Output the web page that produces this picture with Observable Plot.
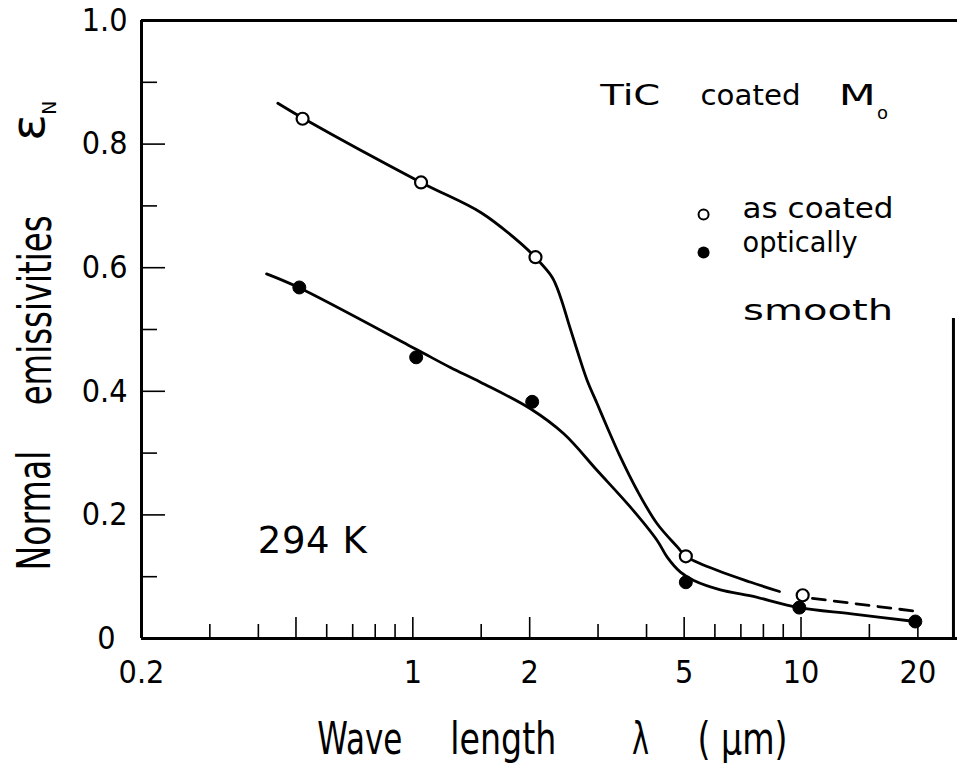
<!DOCTYPE html>
<html><head><meta charset="utf-8">
<script src="https://cdn.jsdelivr.net/npm/d3@7"></script>
<script src="https://cdn.jsdelivr.net/npm/@observablehq/plot@0.6"></script>
<style>
body{margin:0;background:#fff;}
#chart svg{display:block;}
</style></head><body><div id="chart"></div>
<script>
const font = "'DejaVu Sans',sans-serif";

// measured points (wavelength in µm, normal emissivity)
const asCoatedWl = [0.52, 1.05, 2.07, 5.05, 10.1];
const asCoatedEm = [0.841, 0.738, 0.617, 0.133, 0.070];
const smoothWl = [0.51, 1.02, 2.03, 5.05, 9.9, 19.7];
const smoothEm = [0.568, 0.455, 0.383, 0.091, 0.050, 0.0275];

// hand-drawn fitted curves
const upperWl = [0.449, 0.524, 1.05, 1.50, 1.90, 2.07, 2.285, 2.401, 2.522, 2.651, 2.813, 2.985, 3.167, 3.427, 3.784, 4.26, 4.82, 5.05, 6.1, 7.43, 8.8];
const upperEm = [0.866, 0.841, 0.738, 0.689, 0.639, 0.6165, 0.5846, 0.5523, 0.5092, 0.4660, 0.4175, 0.3798, 0.3419, 0.2934, 0.2395, 0.1856, 0.147, 0.133, 0.110, 0.091, 0.076];
const upperDashWl = [10.7, 19.8];
const upperDashEm = [0.065, 0.044];
const lowerWl = [0.42, 0.508, 1.02, 1.25, 1.494, 2.009, 2.449, 2.985, 3.636, 4.26, 4.521, 4.891, 5.294, 6.202, 7.43, 9.9, 13.5, 19.7];
const lowerEm = [0.59, 0.568, 0.468, 0.4385, 0.4147, 0.3717, 0.3312, 0.2718, 0.2125, 0.1586, 0.1316, 0.1073, 0.0939, 0.0788, 0.069, 0.050, 0.040, 0.0275];

// axis ticks
const xMajorTicks = [0.5, 1, 2, 5, 10, 20];
const xMinorTicks = [0.3, 0.4, 0.6, 0.7, 0.8, 0.9, 1.5, 3, 4, 6, 7, 8, 9, 15];
const xTickLabels = [0.2, 1, 2, 5, 10, 20];
const yMajorTicks = [0.2, 0.4, 0.6, 0.8];
const yMinorTicks = [0.1, 0.3, 0.5, 0.7, 0.9];
const yTickLabels = [0.2, 0.4, 0.6, 0.8, 1.0];
const yZeroLabel = [0];

const zip = (xs, ys) => xs.map((x, i) => ({x, y: ys[i]}));
const asCoated = zip(asCoatedWl, asCoatedEm);
const smooth = zip(smoothWl, smoothEm);
const upper = zip(upperWl, upperEm);
const upperDash = zip(upperDashWl, upperDashEm);
const lower = zip(lowerWl, lowerEm);

const T = (s, o) => Plot.text([s], {text: d => d, fontFamily: font, fill: "black", ...o});
const fmtY = d => d === 0 ? "0" : d.toFixed(1);

const chart = Plot.plot({
  width: 957, height: 763,
  marginLeft: 141, marginRight: 0, marginTop: 20, marginBottom: 125,
  x: {type: "log", domain: [0.2, 25.3], axis: null},
  y: {domain: [0, 1], axis: null},
  style: {fontFamily: font, background: "white", color: "black", overflow: "visible"},
  marks: [
    // frame
    Plot.ruleY([0], {stroke: "black", strokeWidth: 3}),
    Plot.ruleY([1], {stroke: "black", strokeWidth: 3}),
    Plot.ruleX([0.2], {stroke: "black", strokeWidth: 3}),
    Plot.ruleX([24.7], {y1: 0, y2: 0.518, stroke: "black", strokeWidth: 3}),
    // ticks (inward)
    Plot.axisX(xMajorTicks, {anchor: "bottom", tickSize: -21, strokeWidth: 1.6, fill: "none", label: null}),
    Plot.axisX(xMinorTicks, {anchor: "bottom", tickSize: -14, strokeWidth: 1.6, fill: "none", label: null}),
    Plot.axisX(xTickLabels, {anchor: "bottom", tickSize: 0, tickPadding: 22, fontSize: 32, fontFamily: font, tickFormat: d => String(d), label: null, className: "xlab"}),
    Plot.axisY(yMajorTicks, {anchor: "left", tickSize: -24, strokeWidth: 1.6, fill: "none", label: null}),
    Plot.axisY(yMinorTicks, {anchor: "left", tickSize: -16, strokeWidth: 1.6, fill: "none", label: null}),
    Plot.axisY(yTickLabels, {anchor: "left", tickSize: 0, tickPadding: 14, fontSize: 32, fontFamily: font, tickFormat: fmtY, label: null, className: "ylab"}),
    Plot.axisY(yZeroLabel, {anchor: "left", tickSize: 0, tickPadding: 26, fontSize: 32, fontFamily: font, tickFormat: fmtY, label: null, className: "ylab"}),
    // curves
    Plot.line(upper, {x: "x", y: "y", curve: "catmull-rom", stroke: "black", strokeWidth: 2.8}),
    Plot.line(upperDash, {x: "x", y: "y", stroke: "black", strokeWidth: 2.8, strokeDasharray: "13,9"}),
    Plot.line(lower, {x: "x", y: "y", curve: "catmull-rom", stroke: "black", strokeWidth: 2.8}),
    // data points
    Plot.dot(asCoated, {x: "x", y: "y", r: 6, fill: "white", stroke: "black", strokeWidth: 2.2}),
    Plot.dot(smooth, {x: "x", y: "y", r: 6.5, fill: "black", stroke: "black", strokeWidth: 1}),
    // title annotation
    T("TiC", {x: 3.04, y: 0.8625, textAnchor: "start", lineAnchor: "bottom", fontSize: 28, className: "t-tic"}),
    T("coated", {x: 5.51, y: 0.8625, textAnchor: "start", lineAnchor: "bottom", fontSize: 28, className: "t-coated"}),
    T("M", {x: 12.5, y: 0.8625, textAnchor: "start", lineAnchor: "bottom", fontSize: 28, className: "t-m"}),
    T("o", {x: 15.7, y: 0.841, textAnchor: "start", lineAnchor: "bottom", fontSize: 18, className: "t-o"}),
    // legend
    Plot.dot([0], {x: 5.61, y: 0.686, r: 5, fill: "white", stroke: "black", strokeWidth: 2}),
    T("as coated", {x: 7.07, y: 0.680, textAnchor: "start", lineAnchor: "bottom", fontSize: 28, className: "t-ascoated"}),
    Plot.dot([0], {x: 5.61, y: 0.6246, r: 6, fill: "black"}),
    T("optically", {x: 7.07, y: 0.6246, textAnchor: "start", lineAnchor: "bottom", fontSize: 28, className: "t-optically"}),
    T("smooth", {x: 7.09, y: 0.5146, textAnchor: "start", lineAnchor: "bottom", fontSize: 28, className: "t-smooth"}),
    // temperature
    T("294 K", {x: 0.551, y: 0.139, textAnchor: "middle", lineAnchor: "bottom", fontSize: 37, className: "t-temp"}),
    // x-axis label
    T("Wave", {x: 0.730, frameAnchor: "bottom", dy: 115, textAnchor: "middle", lineAnchor: "bottom", fontSize: 44, className: "t-wave"}),
    T("length", {x: 1.71, frameAnchor: "bottom", dy: 115, textAnchor: "middle", lineAnchor: "bottom", fontSize: 44, className: "t-length"}),
    T("λ", {x: 3.86, frameAnchor: "bottom", dy: 115, textAnchor: "middle", lineAnchor: "bottom", fontSize: 44, className: "t-lambda"}),
    T("( μm)", {x: 7.07, frameAnchor: "bottom", dy: 115, textAnchor: "middle", lineAnchor: "bottom", fontSize: 44, className: "t-unit"}),
    // y-axis label
    T("Normal", {y: 0.207, frameAnchor: "left", dx: -92, rotate: -90, textAnchor: "middle", lineAnchor: "bottom", fontSize: 46, className: "t-normal"}),
    T("emissivities", {y: 0.531, frameAnchor: "left", dx: -91, rotate: -90, textAnchor: "middle", lineAnchor: "bottom", fontSize: 46, className: "t-emiss"}),
    T("ε", {y: 0.827, frameAnchor: "left", dx: -98, rotate: -90, textAnchor: "middle", lineAnchor: "bottom", fontSize: 46, className: "t-eps"}),
    T("N", {y: 0.859, frameAnchor: "left", dx: -86, rotate: -90, textAnchor: "middle", lineAnchor: "bottom", fontSize: 19, className: "t-n"})
  ]
});
document.getElementById("chart").appendChild(chart);

// condense the lettering to the narrow widths of the original figure
const fit = (cls, w, adj = "spacingAndGlyphs") => chart.querySelectorAll(`.${cls} text`).forEach(t => {
  t.setAttribute("textLength", w); t.setAttribute("lengthAdjust", adj);
});
const squeeze = (cls, f) => chart.querySelectorAll(`.${cls} text`).forEach(t => {
  t.setAttribute("textLength", t.getComputedTextLength() * f); t.setAttribute("lengthAdjust", "spacingAndGlyphs");
});
squeeze("xlab", 0.9);
squeeze("ylab", 0.9);
fit("t-tic", 60); fit("t-coated", 100); fit("t-m", 37); fit("t-o", 11);
fit("t-ascoated", 151); fit("t-optically", 115); fit("t-smooth", 150);
fit("t-temp", 109, "spacing");
fit("t-wave", 85); fit("t-length", 106); fit("t-lambda", 17); fit("t-unit", 90);
fit("t-normal", 120); fit("t-emiss", 190); fit("t-eps", 27); fit("t-n", 14);
</script></body></html>
